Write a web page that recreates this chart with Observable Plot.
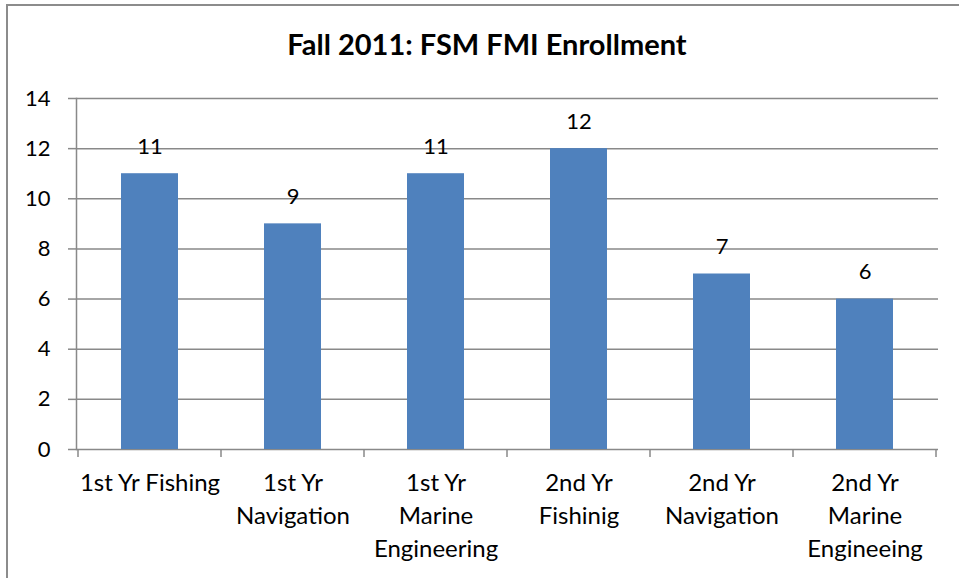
<!DOCTYPE html>
<html><head><meta charset="utf-8">
<script src="https://cdn.jsdelivr.net/npm/d3@7"></script>
<script src="https://cdn.jsdelivr.net/npm/@observablehq/plot@0.6"></script>
<style>
html,body{margin:0;padding:0;background:#fff;}
#wrap{position:relative;width:959px;height:578px;overflow:hidden;font-family:Lato, sans-serif;}
#border{position:absolute;left:6px;top:4px;width:2000px;height:2000px;border:2px solid #8c8c8c;box-sizing:border-box;}
#title{position:absolute;left:15px;width:944px;top:26px;text-align:center;font:bold 29px Lato, sans-serif;line-height:normal;margin:0;color:#000;}
#chart{position:absolute;left:0;top:70px;}
</style>
</head><body>
<div id="wrap">
  <div id="border"></div>
  <div id="chart"></div>
  <h2 id="title">Fall 2011: FSM FMI Enrollment</h2>
</div>
<script>
const categories = ["1st Yr Fishing","1st Yr Navigation","1st Yr Marine Engineering","2nd Yr Fishinig","2nd Yr Navigation","2nd Yr Marine Engineeing"];
const tickLabels = ["1st Yr Fishing","1st Yr\nNavigation","1st Yr\nMarine\nEngineering","2nd Yr\nFishinig","2nd Yr\nNavigation","2nd Yr\nMarine\nEngineeing"];
const enrollment = [11, 9, 11, 12, 7, 6];
const yTicks = [0, 2, 4, 6, 8, 10, 12, 14];

const data = categories.map((c, i) => ({category: c, value: enrollment[i]}));
const gray = "#898989";

const boundaryTicks = (index, scales, values, dimensions) => {
  const x = scales.x;
  const bw = typeof x.bandwidth === "function" ? x.bandwidth() : (scales.scales && scales.scales.x ? scales.scales.x.bandwidth : 0);
  const step = categories.length > 1 ? x(categories[1]) - x(categories[0]) : bw;
  const y0 = scales.y(0);
  const g = d3.create("svg:g").attr("stroke", gray).attr("stroke-width", 1.5);
  const xs = categories.map(c => x(c) - (step - bw) / 2);
  xs.push(xs[xs.length - 1] + step);
  for (const px of xs) {
    g.append("line").attr("x1", px).attr("x2", px).attr("y1", y0).attr("y2", y0 + 8);
  }
  return g.node();
};

const chart = Plot.plot({
  width: 959,
  height: 508,
  marginLeft: 76,
  marginRight: 21,
  marginTop: 28,
  marginBottom: 129,
  style: {fontFamily: "Lato, sans-serif", fontSize: "20px", color: "#000", background: "transparent"},
  x: {domain: categories, paddingInner: 0.6, paddingOuter: 0.3, label: null},
  y: {domain: [0, 14], label: null},
  marks: [
    Plot.ruleY(yTicks, {stroke: gray, strokeWidth: 1.5}),
    Plot.barY(data, {x: "category", y: "value", fill: "#4F81BD"}),
    Plot.text(data, {x: "category", y: "value", text: d => String(d.value), dy: -27, lineAnchor: "middle", fontSize: 22, fill: "#000"}),
    Plot.axisY({ticks: yTicks, tickSize: 8, tickPadding: 18, stroke: gray, strokeWidth: 1.5, fill: "#000", fontSize: 22, label: null}),
    Plot.axisX({tickSize: 0, tickPadding: 18, tickFormat: d => tickLabels[categories.indexOf(d)], lineHeight: 1.375, fontSize: 24, fill: "#000", label: null}),
    Plot.frame({anchor: "left", stroke: gray, strokeWidth: 1.5}),
    boundaryTicks
  ]
});
document.getElementById("chart").appendChild(chart);
</script>
</body></html>
